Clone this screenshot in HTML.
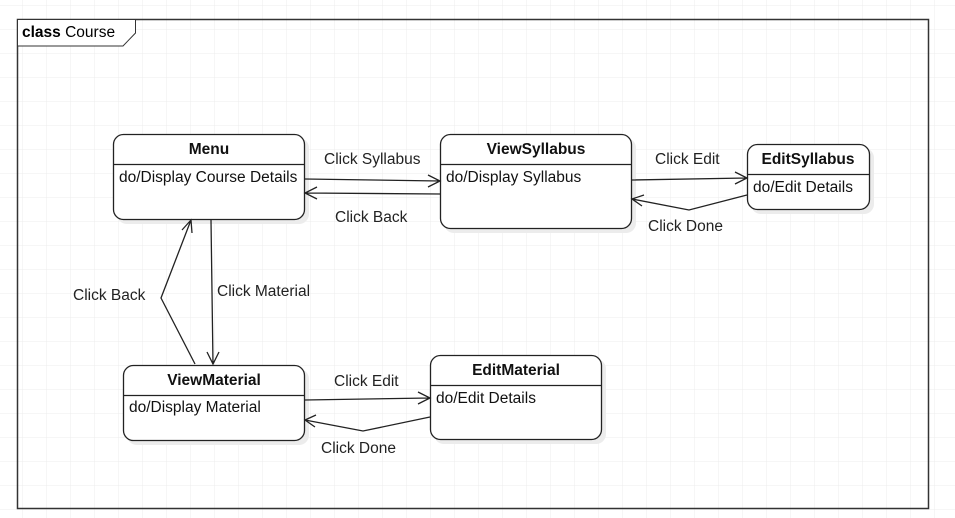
<!DOCTYPE html>
<html><head><style>
html,body{margin:0;padding:0;background:#fff;}
svg{display:block;font-family:"Liberation Sans",sans-serif;}
</style></head><body>
<svg width="955" height="518" viewBox="0 0 955 518" xmlns="http://www.w3.org/2000/svg">
<defs>
<pattern id="g" x="22.5" y="5" width="24" height="24" patternUnits="userSpaceOnUse">
<path d="M0 0H24M0 0V24" stroke="#ececec" stroke-width="1" fill="none"/>
</pattern>
</defs>
<rect width="955" height="518" fill="url(#g)"/>
<rect x="17.5" y="19.5" width="911" height="489" fill="#fff" fill-opacity="0" stroke="#333" stroke-width="1.5"/>
<path d="M17.5 19.5H135.5V33L123 46H17.5Z" fill="#fff" stroke="#333" stroke-width="1"/>
<text x="22" y="37" font-size="15.5"><tspan font-weight="bold">class</tspan> Course</text>

<g stroke="#222" stroke-width="1.3" fill="#fff">
<rect x="117" y="138" width="192" height="86" rx="10" fill="#ececec" stroke="none"/>
<rect x="113.5" y="134.5" width="191" height="85" rx="10"/>
<line x1="113.5" y1="164.5" x2="304.5" y2="164.5"/>
<rect x="444" y="138" width="192" height="95" rx="10" fill="#ececec" stroke="none"/>
<rect x="440.5" y="134.5" width="191" height="94" rx="10"/>
<line x1="440.5" y1="164.5" x2="631.5" y2="164.5"/>
<rect x="751" y="148" width="123" height="66" rx="10" fill="#ececec" stroke="none"/>
<rect x="747.5" y="144.5" width="122" height="65" rx="10"/>
<line x1="747.5" y1="174.5" x2="869.5" y2="174.5"/>
<rect x="127" y="369" width="182" height="76" rx="10" fill="#ececec" stroke="none"/>
<rect x="123.5" y="365.5" width="181" height="75" rx="10"/>
<line x1="123.5" y1="395.5" x2="304.5" y2="395.5"/>
<rect x="434" y="359" width="172" height="85" rx="10" fill="#ececec" stroke="none"/>
<rect x="430.5" y="355.5" width="171" height="84" rx="10"/>
<line x1="430.5" y1="385.5" x2="601.5" y2="385.5"/>
</g>
<g font-size="15.5" fill="#111">
<text x="209" y="154" text-anchor="middle" font-weight="bold">Menu</text>
<text x="119" y="182">do/Display Course Details</text>
<text x="536" y="154" text-anchor="middle" font-weight="bold">ViewSyllabus</text>
<text x="446" y="182">do/Display Syllabus</text>
<text x="808" y="164" text-anchor="middle" font-weight="bold">EditSyllabus</text>
<text x="753" y="192">do/Edit Details</text>
<text x="214" y="385" text-anchor="middle" font-weight="bold">ViewMaterial</text>
<text x="129" y="412">do/Display Material</text>
<text x="516" y="375" text-anchor="middle" font-weight="bold">EditMaterial</text>
<text x="436" y="403">do/Edit Details</text>
</g>
<g stroke="#222" stroke-width="1.3" fill="none">
<path d="M305 179L440 181M428 175L440 181L428 187"/>
<path d="M440 194L305 193M317 187L305 193L317 199"/>
<path d="M632 180L747 178M735 172L747 178L735 184"/>
<path d="M747 195L689 210L632 199M644 195L632 199L642 206"/>
<path d="M211 220L213 364M207 352L213 364L219 352"/>
<path d="M195 364L161 298L191 220M182 230L191 220L192 233"/>
<path d="M305 400L430 398M418 392L430 398L418 404"/>
<path d="M430 417L363 431L305 420M316 415L305 420L315 427"/>
</g>
<g font-size="15.5" fill="#222">
<text x="324" y="164">Click Syllabus</text>
<text x="335" y="222">Click Back</text>
<text x="655" y="164">Click Edit</text>
<text x="648" y="231">Click Done</text>
<text x="217" y="296">Click Material</text>
<text x="73" y="300">Click Back</text>
<text x="334" y="386">Click Edit</text>
<text x="321" y="453">Click Done</text>
</g>
</svg>
</body></html>
